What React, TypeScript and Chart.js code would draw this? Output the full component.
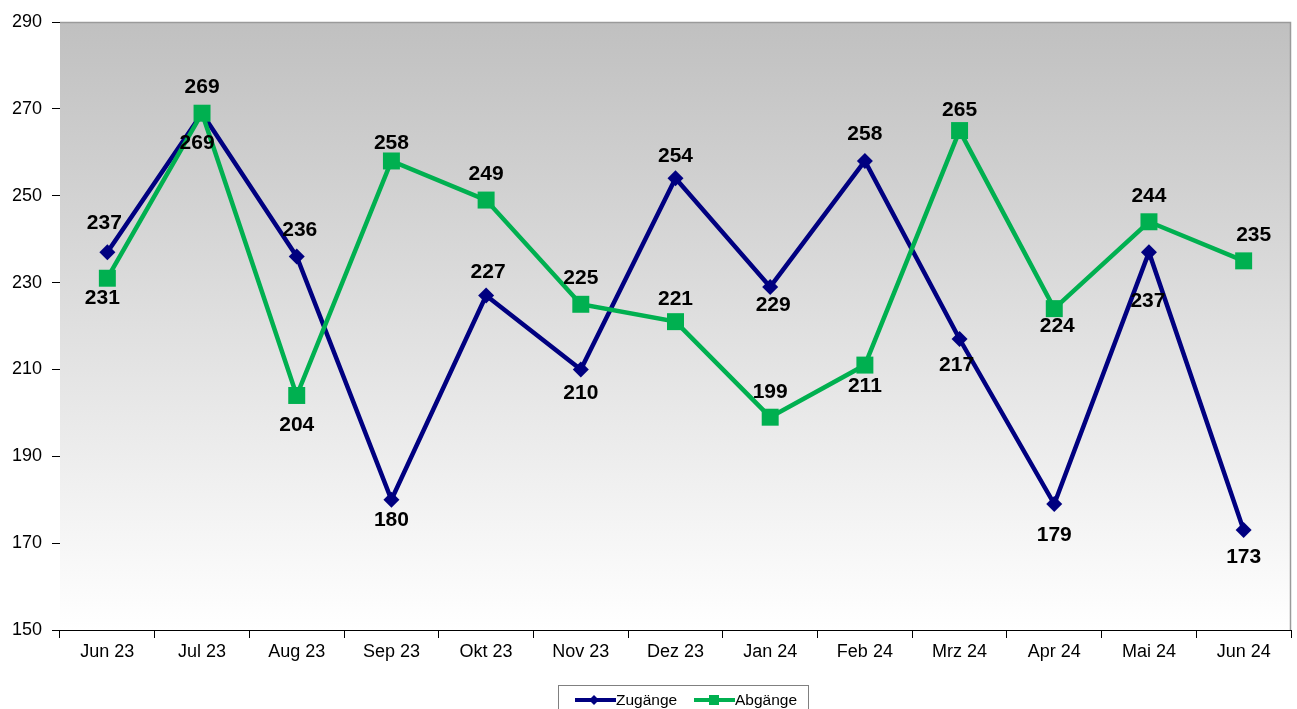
import React, { useEffect, useRef } from "react";
import { Chart, registerables } from "chart.js";

Chart.register(...registerables);

const categories = ["Jun 23", "Jul 23", "Aug 23", "Sep 23", "Okt 23", "Nov 23", "Dez 23", "Jan 24", "Feb 24", "Mrz 24", "Apr 24", "Mai 24", "Jun 24"];
const zugaenge = [237, 269, 236, 180, 227, 210, 254, 229, 258, 217, 179, 237, 173];
const abgaenge = [231, 269, 204, 258, 249, 225, 221, 199, 211, 265, 224, 244, 235];
const yTicks = [150, 170, 190, 210, 230, 250, 270, 290];

// label placement (vertical offset from the point in px; negative = above)
const zugLabelDy = [-29, 30, -26, 20, -23, 24, -22, 18, -27, 26, 31, 49, 27];
const abgLabelDy = [20, -26, 30, -18, -26, -26, -22, -25, 21, -20, 18, -26, -26];
const zugLabelDx = [-3, -5, 3, 0, 2, 0, 0, 3, 0, -3, 0, -1, 0];
const abgLabelDx = [-5, 0, 0, 0, 0, 0, 0, 0, 0, 0, 3, 0, 10];

const NAVY = "#000080";
const GREEN = "#00B050";
const FONT = "Arial, 'Liberation Sans', sans-serif";

const bgPlugin = {
  id: "bgPlugin",
  beforeDatasetsDraw(chart: any) {
    const { ctx, chartArea } = chart;
    const { left, top, right, bottom } = chartArea;
    ctx.save();
    const g = ctx.createLinearGradient(0, top, 0, bottom);
    g.addColorStop(0, "#c0c0c0");
    g.addColorStop(1, "#ffffff");
    ctx.fillStyle = g;
    ctx.fillRect(left, top, right - left, bottom - top);
    ctx.strokeStyle = "#9a9a9a";
    ctx.lineWidth = 1.5;
    ctx.beginPath();
    ctx.moveTo(left, top + 0.5);
    ctx.lineTo(right - 0.5, top + 0.5);
    ctx.lineTo(right - 0.5, bottom);
    ctx.stroke();
    ctx.restore();
  },
};

const labelPlugin = {
  id: "labelPlugin",
  afterDatasetsDraw(chart: any) {
    const { ctx } = chart;
    ctx.save();
    ctx.font = `bold 21px ${FONT}`;
    ctx.fillStyle = "#000";
    ctx.textAlign = "center";
    ctx.textBaseline = "middle";
    chart.data.datasets.forEach((ds: any, di: number) => {
      const meta = chart.getDatasetMeta(di);
      const dys = ds.label === "Zugänge" ? zugLabelDy : abgLabelDy;
      const dxs = ds.label === "Zugänge" ? zugLabelDx : abgLabelDx;
      meta.data.forEach((pt: any, i: number) => {
        ctx.fillText(String(ds.data[i]), pt.x + dxs[i], pt.y + dys[i]);
      });
    });
    ctx.restore();
  },
};

const legendPlugin = {
  id: "legendPlugin",
  afterDraw(chart: any) {
    const { ctx } = chart;
    ctx.save();
    const bx = 558, by = 685, bw = 250, bh = 30;
    ctx.fillStyle = "#fff";
    ctx.fillRect(bx, by, bw, bh);
    ctx.strokeStyle = "#808080";
    ctx.lineWidth = 1;
    ctx.strokeRect(bx + 0.5, by + 0.5, bw, bh);
    const cy = 700;
    // Zugänge
    ctx.strokeStyle = NAVY;
    ctx.lineWidth = 4;
    ctx.beginPath();
    ctx.moveTo(575, cy);
    ctx.lineTo(616, cy);
    ctx.stroke();
    ctx.fillStyle = NAVY;
    ctx.beginPath();
    ctx.moveTo(594, cy - 5);
    ctx.lineTo(599, cy);
    ctx.lineTo(594, cy + 5);
    ctx.lineTo(589, cy);
    ctx.closePath();
    ctx.fill();
    // Abgänge
    ctx.strokeStyle = GREEN;
    ctx.beginPath();
    ctx.moveTo(694, cy);
    ctx.lineTo(735, cy);
    ctx.stroke();
    ctx.fillStyle = GREEN;
    ctx.fillRect(709, cy - 5, 10, 10);
    ctx.fillStyle = "#000";
    ctx.font = `15.5px ${FONT}`;
    ctx.textBaseline = "middle";
    ctx.textAlign = "left";
    ctx.fillText("Zugänge", 616, cy + 1);
    ctx.fillText("Abgänge", 735, cy + 1);
    ctx.restore();
  },
};

export default function App() {
  const ref = useRef<HTMLCanvasElement>(null);
  useEffect(() => {
    document.body.style.margin = "0";
    const chart = new Chart(ref.current as HTMLCanvasElement, {
      type: "line",
      data: {
        labels: categories,
        datasets: [
          {
            label: "Zugänge",
            data: zugaenge,
            borderColor: NAVY,
            backgroundColor: NAVY,
            borderWidth: 4.5,
            pointStyle: "rectRot",
            pointRadius: 8,
            pointBorderWidth: 0,
            tension: 0,
            order: 2,
          },
          {
            label: "Abgänge",
            data: abgaenge,
            borderColor: GREEN,
            backgroundColor: GREEN,
            borderWidth: 4.5,
            pointStyle: "rect",
            pointRadius: 12,
            pointBorderWidth: 0,
            tension: 0,
            order: 1,
          },
        ],
      },
      plugins: [bgPlugin, labelPlugin, legendPlugin],
      options: {
        animation: false,
        responsive: false,
        maintainAspectRatio: false,
        layout: { autoPadding: false, padding: { top: 22, right: 6, left: 0, bottom: 0 } },
        plugins: { legend: { display: false }, tooltip: { enabled: false } },
        scales: {
          x: {
            type: "category",
            offset: true,
            grid: { offset: true, drawOnChartArea: false, drawTicks: true, tickLength: 8, color: "#000" },
            border: { color: "#000", width: 1 },
            ticks: { color: "#000", font: { family: FONT, size: 18 }, padding: 3, maxRotation: 0 },
            afterFit: (s: any) => { s.height = 79; s.paddingLeft = 0; s.paddingRight = 0; },
          },
          y: {
            min: 150,
            max: 290,
            afterBuildTicks: (s: any) => { s.ticks = yTicks.map((v) => ({ value: v })); },
            grid: { drawOnChartArea: false, drawTicks: true, tickLength: 8, color: "#000" },
            border: { color: "#000", width: 1 },
            ticks: { color: "#000", font: { family: FONT, size: 18 }, padding: 10 },
            afterFit: (s: any) => { s.width = 60; },
          },
        },
      },
    } as any);
    return () => chart.destroy();
  }, []);
  return <canvas ref={ref} width={1297} height={709} style={{ display: "block" }} />;
}
